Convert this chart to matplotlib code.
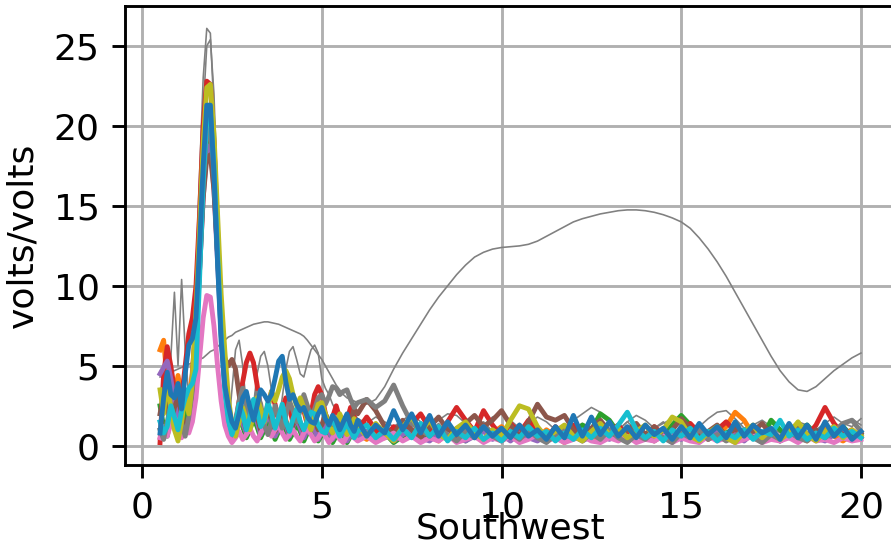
import numpy as np
import matplotlib.pyplot as plt

# sample grid: fine steps over the peak region, coarser over the tail
x = np.concatenate([np.arange(5, 61) / 10, np.arange(25, 81) / 4])

# thin grey traces
grey_thin_a = [1.5, 3.0, 2.0, 5.5, 9.6, 5.0, 10.4, 6.0, 3.0, 6.0, 11.0, 17.0, 23.0, 26.1,
               25.8, 21.0, 14.0, 7.0, 2.5, 1.0, 3.5, 6.0, 6.6, 5.0, 2.5, 1.0, 2.5, 4.5,
               5.6, 5.9, 5.0, 3.5, 2.0, 1.5, 3.0, 4.8, 5.9, 6.2, 5.4, 4.5, 4.3, 5.2,
               6.0, 6.3, 5.8, 4.2, 3.6, 3.2, 2.6, 2.2, 2.0, 1.8, 1.9, 2.1, 2.0, 1.7,
               1.4, 1.8, 1.5, 1.2, 1.6, 2.0, 1.5, 1.1, 1.6, 2.0, 1.9, 1.4, 1.0, 1.3,
               1.8, 2.0, 1.6, 1.1, 1.4, 1.8, 1.5, 1.0, 1.2, 1.6, 2.0, 2.4, 2.1, 1.4,
               1.0, 1.5, 1.9, 1.6, 1.1, 1.4, 1.7, 1.3, 0.9, 1.2, 1.7, 2.1, 2.2, 1.7,
               1.1, 1.3, 1.6, 1.2, 0.8, 1.1, 1.5, 1.3, 0.9, 1.4, 1.8, 1.4, 1.2, 1.7]
grey_thin_b = [0.5, 2.0, 3.5, 2.0, 1.0, 2.5, 3.2, 2.0, 2.5, 5.0, 9.5, 15.0, 21.0, 25.0,
               25.4, 22.0, 15.5, 9.0, 4.0, 1.2, 0.5, 1.5, 2.8, 2.2, 1.0, 1.6, 2.8, 2.4,
               1.2, 1.6, 2.6, 2.2, 1.2, 1.8, 2.6, 2.0, 1.0, 1.5, 2.4, 1.9, 1.0, 1.5,
               2.2, 1.7, 0.9, 1.3, 2.0, 1.6, 0.8, 1.2, 1.9, 1.5, 0.8, 1.1, 1.6, 1.2,
               0.8, 1.3, 0.7, 1.1, 1.6, 1.0, 0.5, 0.9, 1.4, 0.8, 1.2, 0.6, 1.0, 1.5,
               0.9, 0.5, 1.0, 1.4, 0.8, 1.3, 0.7, 1.1, 0.6, 1.0, 1.4, 0.8, 1.2, 0.6,
               1.0, 1.5, 1.0, 0.6, 1.1, 1.5, 0.9, 0.5, 1.0, 1.4, 0.8, 1.2, 0.7, 1.1,
               1.5, 0.9, 0.5, 1.0, 1.4, 0.8, 1.2, 0.6, 1.0, 1.4, 0.8, 1.2, 1.7, 1.3]
grey_broad = [4.3, 4.4, 4.5, 4.6, 4.7, 4.8, 4.9, 5.0, 5.1, 5.2, 5.3, 5.4, 5.5, 5.7,
              5.9, 6.0, 6.2, 6.4, 6.6, 6.8, 6.9, 7.1, 7.2, 7.3, 7.4, 7.5, 7.6, 7.65,
              7.7, 7.75, 7.75, 7.7, 7.65, 7.6, 7.5, 7.4, 7.3, 7.2, 7.1, 7.0, 6.85, 6.6,
              6.3, 6.0, 5.7, 5.4, 5.0, 4.6, 4.2, 3.8, 3.5, 3.2, 3.0, 2.9, 2.8, 2.7,
              2.6, 2.9, 3.7, 4.8, 5.8, 6.7, 7.6, 8.5, 9.3, 10.0, 10.7, 11.3, 11.8, 12.1,
              12.3, 12.4, 12.45, 12.5, 12.6, 12.8, 13.1, 13.4, 13.7, 14.0, 14.2, 14.35, 14.5, 14.6,
              14.7, 14.75, 14.75, 14.7, 14.6, 14.45, 14.25, 14.0, 13.6, 13.0, 12.3, 11.5, 10.6, 9.6,
              8.6, 7.6, 6.6, 5.6, 4.7, 4.0, 3.5, 3.4, 3.7, 4.2, 4.7, 5.1, 5.5, 5.8]

# thick coloured traces
orange = [6.0, 6.6, 4.0, 2.0, 3.2, 4.4, 3.0, 1.8, 2.8, 4.5, 8.0, 12.5, 17.0, 19.8,
          20.0, 17.0, 12.0, 7.5, 4.0, 1.8, 0.8, 1.6, 2.4, 1.6, 0.8, 1.4, 2.2, 1.7,
          1.0, 1.8, 2.6, 1.8, 1.0, 1.6, 2.4, 1.6, 0.8, 1.3, 2.0, 1.4, 0.7, 1.2,
          1.9, 1.3, 0.6, 1.1, 1.7, 1.1, 0.5, 0.9, 1.5, 1.0, 0.4, 0.8, 1.3, 0.8,
          0.4, 0.9, 0.5, 1.0, 0.4, 0.8, 1.2, 0.6, 0.3, 0.9, 0.5, 1.1, 0.6, 0.3,
          0.8, 1.2, 0.7, 0.3, 0.9, 0.5, 1.0, 0.6, 0.2, 0.7, 1.1, 0.6, 0.3, 0.8,
          0.4, 0.9, 1.2, 0.6, 0.3, 0.8, 0.5, 1.0, 0.6, 0.3, 0.9, 0.6, 1.2, 2.1,
          1.6, 0.7, 0.4, 0.9, 0.5, 1.0, 0.6, 0.3, 0.8, 1.1, 0.6, 0.3, 0.7, 0.5]
green = [2.5, 1.2, 0.6, 1.8, 2.6, 1.6, 0.8, 2.0, 3.0, 3.6, 7.0, 11.5, 16.0, 19.0,
         19.2, 16.5, 12.0, 7.5, 4.0, 1.6, 0.5, 1.0, 1.8, 1.2, 0.5, 1.0, 1.7, 1.2,
         0.5, 1.0, 1.6, 1.1, 0.4, 0.9, 1.5, 1.0, 0.4, 0.8, 1.4, 0.9, 0.3, 0.8,
         1.3, 0.8, 0.3, 0.7, 1.2, 0.7, 0.2, 0.6, 1.1, 0.7, 0.2, 0.6, 1.0, 0.5,
         0.9, 0.4, 0.8, 0.2, 0.6, 1.0, 0.5, 0.9, 0.4, 1.0, 0.6, 0.3, 0.8, 1.2,
         0.6, 0.9, 0.4, 0.8, 1.2, 0.6, 0.3, 0.9, 1.2, 0.7, 1.3, 1.0, 2.0, 1.6,
         0.8, 0.4, 0.9, 0.5, 1.1, 0.6, 1.3, 1.9, 1.3, 0.6, 0.9, 0.4, 0.8, 1.1,
         0.6, 1.0, 0.5, 1.6, 1.0, 0.5, 0.9, 1.3, 0.7, 0.4, 0.9, 1.2, 0.6, 0.8]
red = [0.2, 4.5, 6.2, 5.0, 3.5, 2.0, 3.0, 5.0, 7.0, 8.0, 10.0, 14.5, 20.0, 22.8,
       22.6, 19.0, 13.5, 8.0, 4.2, 1.8, 0.6, 1.4, 2.8, 4.0, 5.2, 5.8, 5.2, 3.8,
       2.3, 1.5, 2.4, 3.4, 2.6, 1.6, 2.2, 3.0, 2.4, 1.4, 1.9, 2.8, 2.2, 1.3,
       2.0, 3.2, 3.7, 3.2, 2.0, 1.2, 1.8, 2.5, 1.7, 1.0, 1.6, 2.4, 1.8, 1.0,
       1.8, 1.0, 0.5, 1.2, 0.7, 1.4, 2.0, 1.1, 0.6, 1.5, 2.4, 1.6, 0.9, 2.2,
       1.3, 0.6, 1.4, 0.8, 1.6, 1.0, 0.4, 1.2, 0.7, 1.3, 0.6, 1.1, 0.4, 0.9,
       1.3, 0.6, 1.0, 0.5, 1.2, 0.7, 0.3, 0.9, 1.4, 0.8, 0.4, 1.0, 1.5, 0.9,
       0.5, 1.1, 0.6, 1.0, 0.4, 0.8, 1.2, 0.6, 1.3, 2.4, 1.4, 0.7, 1.0, 0.5]
purple = [4.5, 4.9, 5.3, 4.2, 2.8, 1.8, 2.9, 3.5, 2.4, 3.8, 6.8, 11.0, 15.5, 18.5,
          18.8, 16.0, 11.5, 7.0, 3.8, 1.6, 0.6, 1.2, 2.0, 1.4, 0.8, 1.5, 2.2, 1.5,
          0.7, 1.3, 2.0, 1.4, 0.6, 1.1, 1.8, 1.3, 0.6, 1.2, 1.7, 1.1, 0.5, 1.0,
          1.5, 1.0, 0.4, 0.9, 1.4, 0.9, 0.4, 0.8, 1.3, 0.8, 0.3, 0.7, 1.1, 0.6,
          0.9, 0.4, 0.8, 0.3, 0.7, 1.0, 0.5, 0.3, 0.8, 0.4, 0.9, 0.3, 0.6, 0.9,
          0.4, 0.7, 0.3, 0.8, 0.5, 0.3, 0.7, 1.0, 0.5, 0.8, 0.3, 0.6, 0.9, 0.4,
          0.7, 0.3, 0.8, 0.5, 0.3, 0.7, 0.9, 0.4, 0.8, 0.3, 0.6, 0.9, 0.4, 0.7,
          0.3, 0.8, 0.5, 0.9, 0.3, 0.6, 0.4, 0.8, 0.5, 0.3, 0.7, 0.9, 0.4, 0.6]
brown = [2.0, 3.2, 2.5, 1.3, 2.4, 3.0, 2.0, 1.2, 1.6, 3.0, 6.5, 11.0, 15.5, 18.0,
         18.2, 16.0, 12.0, 8.0, 5.5, 5.0, 5.4, 4.8, 3.2, 1.8, 1.0, 1.7, 2.5, 1.8,
         1.0, 1.6, 2.3, 1.6, 0.9, 1.4, 2.1, 1.5, 0.8, 1.3, 2.0, 1.4, 0.9, 1.5,
         2.2, 1.6, 1.0, 1.3, 2.0, 1.5, 0.8, 1.2, 1.9, 1.4, 0.8, 1.5, 2.3, 2.0,
         2.9, 2.2, 1.2, 0.7, 1.6, 1.0, 0.5, 1.2, 1.8, 1.0, 0.6, 1.4, 1.9, 1.2,
         1.6, 2.2, 1.3, 0.6, 1.5, 2.6, 1.8, 1.6, 1.9, 1.0, 0.5, 1.1, 1.6, 0.9,
         0.4, 1.0, 1.4, 0.7, 1.2, 0.5, 1.0, 1.7, 1.1, 0.5, 0.9, 1.3, 0.6, 1.1,
         0.5, 0.9, 1.4, 0.7, 0.3, 0.8, 1.2, 0.6, 1.0, 0.5, 1.1, 0.7, 0.4, 0.8]
pink = [0.5, 1.2, 0.6, 1.4, 1.8, 1.2, 0.5, 1.0, 0.8, 1.5, 3.0, 5.5, 8.0, 9.4,
        9.3, 7.5, 5.0, 2.8, 1.3, 0.6, 0.2, 0.5, 0.9, 0.4, 0.7, 1.1, 0.6, 0.3,
        0.8, 1.2, 0.9, 0.6, 1.0, 1.3, 0.8, 0.4, 0.7, 1.0, 0.6, 0.3, 0.8, 1.1,
        0.7, 0.3, 0.5, 0.9, 0.6, 0.2, 0.5, 0.8, 0.4, 0.2, 0.6, 0.9, 0.5, 0.3,
        0.6, 0.2, 0.5, 0.8, 0.3, 0.6, 0.2, 0.5, 0.3, 0.7, 0.2, 0.4, 0.6, 0.2,
        0.5, 0.3, 0.6, 0.2, 0.4, 0.7, 0.3, 0.5, 0.2, 0.4, 0.6, 0.3, 0.2, 0.5,
        0.3, 0.6, 0.2, 0.4, 0.3, 0.6, 0.2, 0.5, 0.3, 0.2, 0.6, 0.3, 0.5, 0.2,
        0.4, 0.6, 0.2, 0.4, 0.3, 0.5, 0.2, 0.6, 0.3, 0.4, 0.2, 0.5, 0.3, 0.4]
grey = [1.0, 0.4, 1.5, 2.6, 1.5, 0.8, 1.4, 0.6, 1.8, 3.5, 7.0, 11.5, 16.5, 19.5,
        19.8, 17.0, 12.5, 8.0, 4.5, 2.0, 0.8, 1.5, 2.8, 3.6, 2.5, 1.4, 2.0, 3.3,
        2.6, 1.3, 0.7, 1.5, 2.5, 1.8, 1.1, 1.9, 2.8, 2.2, 1.5, 2.2, 3.2, 2.5,
        1.8, 2.3, 3.0, 3.2, 2.6, 3.1, 3.7, 3.6, 3.2, 3.4, 3.5, 2.9, 2.4, 2.7,
        2.9, 2.4, 2.8, 3.8, 2.5, 1.4, 1.0, 0.6, 1.1, 0.7, 0.3, 0.9, 0.5, 1.2,
        0.6, 0.3, 0.8, 0.4, 1.0, 0.5, 0.2, 0.7, 1.1, 0.6, 0.3, 0.8, 0.4, 1.0,
        0.5, 0.2, 0.7, 0.4, 0.9, 0.5, 0.2, 0.8, 0.5, 1.0, 0.4, 0.7, 0.3, 0.6,
        1.0, 0.5, 0.2, 0.7, 0.4, 0.9, 0.5, 0.3, 0.8, 0.5, 0.9, 1.4, 1.6, 0.9]
olive = [3.5, 2.0, 4.3, 2.2, 1.0, 0.3, 1.5, 3.2, 2.0, 4.0, 8.5, 13.5, 19.0, 22.4,
         22.6, 19.5, 14.5, 9.5, 6.0, 3.0, 1.4, 0.6, 1.5, 2.4, 1.6, 1.0, 2.0, 3.0,
         2.3, 1.5, 2.4, 3.4, 2.8, 3.5, 4.3, 4.7, 4.2, 3.2, 2.5, 3.0, 2.4, 1.5,
         1.0, 1.8, 2.6, 2.7, 2.0, 1.2, 0.8, 1.4, 2.0, 1.4, 0.7, 1.1, 1.7, 1.2,
         0.6, 1.4, 0.8, 0.3, 1.2, 1.8, 0.9, 1.6, 0.7, 0.4, 1.1, 1.5, 0.8, 0.4,
         1.0, 0.6, 1.6, 2.5, 2.3, 1.2, 0.5, 0.9, 1.3, 0.6, 0.3, 0.9, 1.4, 0.7,
         1.1, 0.5, 0.9, 1.3, 0.6, 1.0, 1.8, 1.5, 0.6, 0.3, 0.8, 1.2, 0.5, 0.2,
         0.9, 1.3, 0.5, 1.0, 0.4, 0.8, 1.5, 0.7, 0.3, 0.9, 1.2, 0.5, 1.0, 0.6]
cyan = [1.5, 0.8, 1.2, 2.5, 1.8, 1.0, 2.2, 3.0, 3.6, 3.9, 4.8, 10.5, 16.5, 20.5,
        20.8, 17.5, 12.0, 7.0, 3.5, 1.6, 0.7, 1.4, 2.6, 2.0, 1.0, 1.8, 2.9, 2.2,
        1.2, 1.6, 2.7, 2.0, 1.1, 1.8, 2.6, 1.5, 0.9, 1.7, 2.3, 1.5, 1.0, 1.6,
        2.1, 2.0, 1.3, 0.9, 0.8, 1.3, 1.7, 1.1, 0.6, 1.0, 1.4, 0.9, 0.5, 0.9,
        1.3, 0.5, 1.0, 0.4, 1.1, 0.5, 1.4, 0.6, 1.2, 0.3, 0.9, 0.5, 1.1, 0.4,
        0.8, 0.3, 0.9, 0.5, 1.2, 0.6, 0.9, 0.3, 0.8, 0.4, 1.0, 0.5, 1.1, 0.6,
        1.3, 2.1, 1.0, 0.5, 0.9, 0.3, 1.0, 0.6, 1.1, 0.4, 0.9, 0.3, 0.8, 0.5,
        1.0, 0.4, 0.9, 0.7, 1.6, 0.6, 1.0, 0.4, 0.8, 0.5, 1.1, 0.6, 0.9, 0.5]
blue = [0.8, 3.0, 4.6, 3.2, 3.0, 3.9, 2.3, 4.5, 6.3, 6.7, 8.0, 12.5, 17.5, 21.3,
        21.3, 17.0, 11.5, 6.5, 3.8, 2.5, 1.5, 1.1, 2.0, 3.0, 3.4, 2.4, 1.6, 2.5,
        3.5, 3.2, 2.8, 3.2, 4.2, 5.3, 5.6, 4.0, 2.9, 3.2, 2.6, 2.2, 2.4, 1.8,
        1.5, 1.4, 2.0, 2.4, 1.7, 1.3, 1.9, 1.6, 1.0, 1.5, 2.0, 1.3, 0.9, 1.6,
        0.6, 1.3, 0.8, 2.2, 1.0, 2.0, 0.8, 1.9, 0.6, 1.5, 0.7, 1.3, 0.5, 1.2,
        0.6, 1.1, 0.5, 1.3, 0.6, 1.0, 0.4, 1.2, 0.5, 1.9, 0.6, 1.8, 0.7, 1.5,
        0.6, 1.2, 0.5, 1.3, 0.7, 1.1, 0.4, 1.2, 0.5, 1.4, 0.7, 1.2, 0.5, 1.5,
        0.6, 1.3, 0.8, 1.1, 0.4, 1.4, 0.5, 1.3, 0.4, 1.5, 0.6, 1.2, 0.4, 0.9]

thin_series = [grey_thin_a, grey_thin_b, grey_broad]
thick_series = [(orange, '#ff7f0e'), (green, '#2ca02c'), (red, '#d62728'),
                (purple, '#9467bd'), (brown, '#8c564b'), (pink, '#e377c2'),
                (grey, '#7f7f7f'), (olive, '#bcbd22'), (cyan, '#17becf'),
                (blue, '#1f77b4')]

fig = plt.figure(figsize=(891 / 260, 546 / 260), dpi=260)
ax = fig.add_axes([125 / 891, 81 / 546, 771 / 891, 459 / 546])

for y in thin_series:
    ax.plot(x, y, color='#808080', linewidth=0.45)
for y, c in thick_series:
    ax.plot(x, y, color=c, linewidth=1.35, solid_joinstyle='round')

ax.set_ylim(-1.2, 27.5)
ax.grid(True)
ax.set_ylabel('volts/volts')
ax.set_xlabel('Southwest')
ax.xaxis.set_label_coords(0.5, -0.102)

fig.savefig('out.png', dpi=260)
